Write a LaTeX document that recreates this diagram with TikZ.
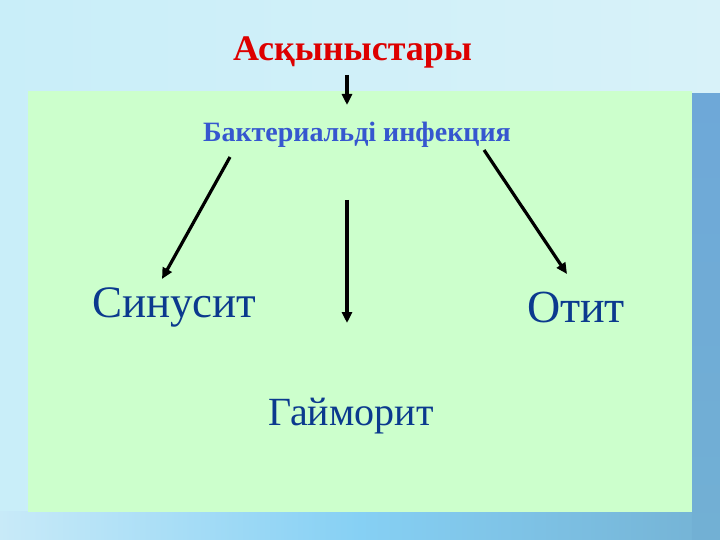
\documentclass[tikz,border=0pt]{standalone}
\usepackage{fontspec}
\setmainfont{Liberation Serif}
\usetikzlibrary{arrows.meta}
\definecolor{bgcyan}{HTML}{C9EEF9}
\definecolor{bgcyanr}{HTML}{D8F2F9}
\definecolor{panel}{HTML}{CCFFCC}
\definecolor{strip}{HTML}{6EA8D8}
\definecolor{stripb}{HTML}{72B0D4}
\definecolor{bandl}{HTML}{C8EAF8}
\definecolor{bandm}{HTML}{86D0F4}
\definecolor{bandr}{HTML}{74B2D4}
\definecolor{titlered}{HTML}{DD0000}
\definecolor{midblue}{HTML}{3657CF}
\definecolor{darkblue}{HTML}{0B3A8E}
\tikzset{
  arr/.style={line width=3.2pt, -{Triangle[length=11pt,width=10pt]}},
  lbl/.style={anchor=base west, inner sep=0pt, outer sep=0pt},
  big/.style={lbl, text=darkblue}
}
\begin{document}
\begin{tikzpicture}[x=1pt,y=-1pt]
\useasboundingbox (0,0) rectangle (720,540);
% background
\shade[left color=bgcyan, right color=bgcyanr] (0,0) rectangle (720,540);
\shade[left color=bandl, right color=bandr, middle color=bandm] (0,511) rectangle (720,540);
\shade[top color=strip, bottom color=stripb] (692,94) rectangle (720,540);
% panel
\fill[panel] (28,91) rectangle (692,512);
% texts
\node[lbl, text=titlered, font=\fontsize{36}{36}\selectfont\bfseries] (title) at (233,61) {Асқыныстары};
\node[lbl, text=midblue, font=\fontsize{28}{28}\selectfont\bfseries] (bact) at (203,142) {Бактериальді инфекция};
\node[big, font=\fontsize{45}{45}\selectfont] (sin) at (92,317) {Синусит};
\node[big, font=\fontsize{46}{46}\selectfont] (otit) at (527,322) {Отит};
\node[big, font=\fontsize{40}{40}\selectfont] (gaim) at (268,425) {Гайморит};
% arrow ends
\coordinate (a0) at (347,75);  \coordinate (a1) at (347,105);
\coordinate (b0) at (230,157); \coordinate (b1) at (162,279);
\coordinate (c0) at (347,200); \coordinate (c1) at (347,323);
\coordinate (d0) at (484,150); \coordinate (d1) at (567,274);
\draw[arr] (a0) -- (a1);
\draw[arr] (b0) -- (b1);
\draw[arr] (c0) -- (c1);
\draw[arr] (d0) -- (d1);
\end{tikzpicture}
\end{document}
